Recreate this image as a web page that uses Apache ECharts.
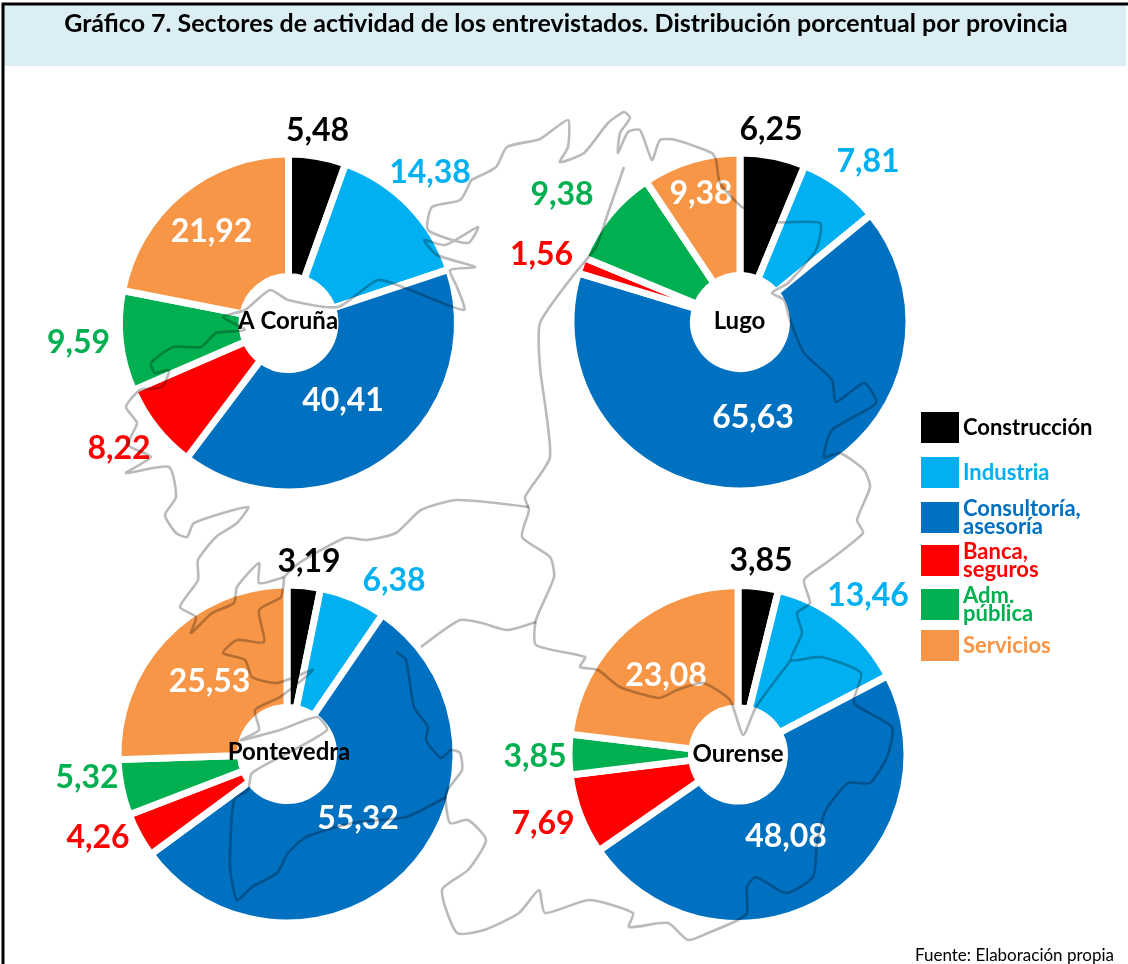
<!DOCTYPE html>
<html><head><meta charset="utf-8">
<style>html,body{margin:0;padding:0;background:#fff}#c{width:1128px;height:964px}</style>
<script src="https://cdn.jsdelivr.net/npm/echarts@6/dist/echarts.min.js"></script>
</head><body><div id="c"></div>
<script>
var titleText = 'Gráfico 7. Sectores de actividad de los entrevistados. Distribución porcentual por provincia';
var sourceText = 'Fuente: Elaboración propia';
var sectors = ['Construcción','Industria','Consultoría,\nasesoría','Banca,\nseguros','Adm.\npública','Servicios'];
var colors = ['#000000','#00B0F0','#0070C0','#FF0000','#00B050','#F79646'];
var provinces = ['A Coruña','Lugo','Pontevedra','Ourense'];
var coruna = [5.48,14.38,40.41,8.22,9.59,21.92];
var lugo = [6.25,7.81,65.63,1.56,9.38,9.38];
var pontevedra = [3.19,6.38,55.32,4.26,5.32,25.53];
var ourense = [3.85,13.46,48.08,7.69,3.85,23.08];
var provinceValues = [coruna,lugo,pontevedra,ourense];

// layout, kept apart from the values
var pieCenters = [[288.5,323],[740,322],[287,754],[738,754.5]];
var nameCenters = [[288,321],[739.5,321],[289,752],[738,754]];
var labelCenters = [
 [[317.5,131],[430,173],[343,401],[119,449],[78.5,343],[211.5,232]],
 [[771,130],[868,162],[753,418],[541.5,255],[562,195],[701,194]],
 [[309,562],[394,581],[358,819],[98,838],[87,778],[209.5,682]],
 [[761,561],[868,596],[786,837],[543,824],[535,757],[666,676]]
];
var labelInside = [
 [0,0,1,0,0,1],[0,0,1,0,0,1],[0,0,1,0,0,1],[0,0,1,0,0,1]
];
var legendTops = [412,457,497.5,540.5,584.5,630];
var legendTextTopPad = [4,0,0,0,0,5];

// decorative background map of Galicia (not data)
var mapLines = [
 // north coast and eastern boundary
 [[471,180],[496,167],[507,147],[540,139],[568,120],[568,147],[560,162],[584,153],[608,123],[624,112],[630,118],[620,133],[618,153],[628,132],[640,130],[652,160],[660,140],[676,140],[712,153],[716,160],[720,183],[742,207],[776,222],[820,223],[816,250],[788,283],[772,293],[784,300],[790,320],[804,353],[832,380],[836,402],[864,383],[876,403],[832,430],[824,457],[840,453],[864,470],[870,487],[857,520],[863,533],[826,563],[804,580],[810,603],[797,613],[802,633],[791,660],[821,657],[861,673],[854,703],[892,727],[887,757],[870,783],[848,783],[826,810],[817,843],[813,877],[786,893],[756,877],[747,887],[747,913],[738,920],[708,933],[688,940],[668,923],[629,927],[633,913],[589,900],[545,913],[539,890],[519,913],[484,930],[457,933],[442,890],[468,870],[486,840],[468,820],[450,823],[446,793],[462,770],[460,753],[451,750],[441,758],[426,740],[428,727],[414,707],[406,660],[396,652]],
 // Lugo / A Coruña / Pontevedra boundary
 [[624,167],[608,213],[596,247],[572,277],[540,323],[540,367],[550,457],[525,497],[529,510],[522,537],[550,557],[554,577],[536,620],[536,645],[585,657],[580,667],[598,670],[620,687],[659,698],[677,690],[703,683],[730,700],[743,735],[756,707],[791,660]],
 // A Coruña coast
 [[471,180],[460,200],[432,207],[428,230],[468,243],[478,227],[445,245],[424,240],[437,255],[475,267],[450,270],[457,287],[464,310],[410,290],[378,280],[338,307],[288,300],[270,290],[245,310],[223,317],[245,330],[216,333],[201,347],[173,347],[151,363],[155,373],[169,370],[162,387],[140,390],[126,407],[137,423],[128,445],[151,457],[126,473],[169,467],[176,497],[165,515],[176,533],[187,537],[194,523],[248,507],[237,523],[216,537],[198,560],[198,580],[180,607],[196,617],[191,633],[212,613],[234,603],[237,587],[259,563],[259,583],[284,577]],
 // A Coruña / Pontevedra / Ourense boundary
 [[284,577],[299,563],[345,538],[367,540],[396,533],[421,510],[457,500],[529,507]],
 [[421,647],[460,620],[482,623],[507,630],[536,622]],
 // Pontevedra rias and southern boundary
 [[284,577],[281,597],[259,610],[264,642],[237,640],[223,653],[245,660],[252,677],[277,683],[313,670],[280,697],[255,710],[259,730],[241,740],[280,730],[317,717],[327,730],[288,753],[252,773],[248,790],[234,800],[230,867],[237,900],[252,887],[277,873],[288,853],[306,837],[352,823],[406,817],[446,797]]
];

var fontFam = 'Lato, "Open Sans", sans-serif';
function fmt(v){ return v.toFixed(2).replace('.',','); }

var series = provinces.map(function(p,pi){
  return {
    type:'pie', name:p, center:pieCenters[pi], radius:[46.5,169], startAngle:90, clockwise:true,
    avoidLabelOverlap:false, silent:true, animation:false, z:2,
    itemStyle:{borderColor:'#fff',borderWidth:7},
    labelLine:{show:false},
    labelLayout:function(params){
      var c = labelCenters[pi][params.dataIndex];
      return {x:c[0],y:c[1],align:'center',verticalAlign:'middle'};
    },
    data:provinceValues[pi].map(function(v,i){
      return {
        name:sectors[i], value:v,
        itemStyle:{color:colors[i]},
        label:{show:true,position:'outside',formatter:fmt(v),fontFamily:fontFam,fontWeight:700,fontSize:32,
               color:labelInside[pi][i]?'#fff':colors[i]}
      };
    })
  };
});

var titles = [
  {text:titleText,left:566,top:11,textAlign:'center',textStyle:{fontFamily:fontFam,fontWeight:700,fontSize:25,color:'#000'},padding:0,z:6},
  {text:sourceText,right:14,top:947,textStyle:{fontFamily:fontFam,fontWeight:400,fontSize:17,color:'#000'},padding:0,z:6}
].concat(provinces.map(function(p,i){
  return {text:p,left:nameCenters[i][0],top:nameCenters[i][1]-12,textAlign:'center',padding:0,z:6,
          textStyle:{fontFamily:fontFam,fontWeight:700,fontSize:24,color:'#000'}};
}));

var legends = sectors.map(function(s,i){
  return {
    data:[{name:s,icon:'rect'}], orient:'vertical', left:921, top:legendTops[i], padding:0,
    itemWidth:38,itemHeight:31,itemGap:0,selectedMode:false,
    inactiveColor:colors[i],
    itemStyle:{borderWidth:0},
    textStyle:{color:colors[i],fontFamily:fontFam,fontWeight:700,fontSize:22,lineHeight:18,padding:[legendTextTopPad[i],0,0,-1]}
  };
});

var graphics = [
  {type:'rect',z:-10,shape:{x:4,y:4,width:1122,height:62},style:{fill:'#DAEEF3'}},
  {type:'rect',z:-9,shape:{x:3,y:4,width:1128,height:970},style:{fill:'none',stroke:'#000',lineWidth:3}}
].concat(mapLines.map(function(pts){
  return {type:'polyline',z:5,silent:true,shape:{points:pts,smooth:0.2},
          style:{fill:'none',stroke:'rgba(0,0,0,0.27)',lineWidth:2.6}};
}));

var chart = echarts.init(document.getElementById('c'),null,{renderer:'canvas'});
chart.setOption({animation:false,backgroundColor:'#fff',title:titles,legend:legends,series:series,
  graphic:{z:5,elements:graphics}});
</script></body></html>
